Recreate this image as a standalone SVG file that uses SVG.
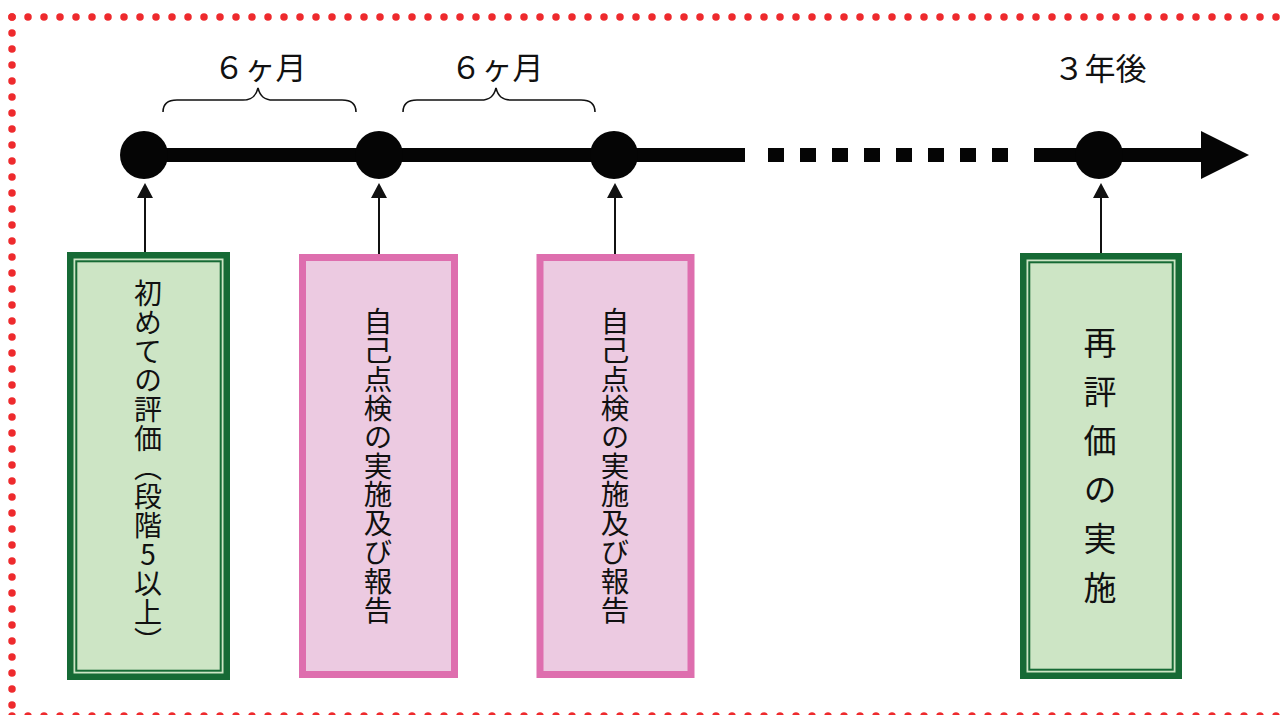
<svg xmlns="http://www.w3.org/2000/svg" width="1283" height="715" viewBox="0 0 1283 715">
  <style>
    .dots { stroke: #ee2a2d; stroke-width: 7.5; stroke-linecap: round; stroke-dasharray: 0 16; fill: none; }
    .axis { stroke: #050505; stroke-width: 14; fill: none; }
    .dot { fill: #050505; }
    .brace { stroke: #111; stroke-width: 1.6; fill: none; }
    .lbl { font-family: "Noto Sans CJK JP", sans-serif; font-size: 31px; font-weight: 400; fill: #111; text-anchor: middle; }
    .conn { stroke: #111; stroke-width: 2; fill: none; }
    .gOuter { fill: #cde5c5; stroke: #166a35; stroke-width: 6.5; }
    .gInner { fill: none; stroke: #166a35; stroke-width: 2; }
    .pBox { fill: #eccae1; stroke: #de6eae; stroke-width: 7; }
    .vt { font-family: "Noto Sans CJK JP", sans-serif; font-weight: 400; fill: #111; writing-mode: vertical-rl; text-orientation: upright; }
  </style>
  <defs>
    <marker id="ah" markerWidth="16" markerHeight="16" refX="8" refY="8" orient="auto" markerUnits="userSpaceOnUse">
      <path d="M0,0 L15,8 L0,16 z" fill="#111"/>
    </marker>
  </defs>

  <g id="frame">
    <line class="dots" x1="12" y1="17" x2="1300" y2="17"/>
    <line class="dots" x1="12" y1="17" x2="12" y2="715"/>
    <line class="dots" x1="12" y1="716" x2="1300" y2="716"/>
  </g>

  <g id="timeline">
    <line class="axis" x1="144" y1="155" x2="745" y2="155"/>
    <line class="axis" x1="768" y1="155" x2="1008" y2="155" stroke-dasharray="16 16"/>
    <line class="axis" x1="1034" y1="155" x2="1205" y2="155"/>
    <polygon points="1201,131 1249,155 1201,179" fill="#050505"/>
    <circle class="dot" cx="144" cy="155" r="24"/>
    <circle class="dot" cx="379" cy="155" r="24"/>
    <circle class="dot" cx="614" cy="155" r="24"/>
    <circle class="dot" cx="1099" cy="155" r="24"/>
  </g>

  <g id="spans">
    <path class="brace" d="M163,112 C163,104 167,100 177,100 L243,100 C252,100 256,96 258,88 C260,96 264,100 273,100 L342,100 C351,100 356,104 356,112"/>
    <text class="lbl" x="260" y="79">６ヶ月</text>
    <path class="brace" d="M403,112 C403,104 407,100 417,100 L481,100 C490,100 494,96 496,88 C498,96 502,100 511,100 L581,100 C590,100 595,104 595,112"/>
    <text class="lbl" x="497" y="79">６ヶ月</text>
    <text class="lbl" x="1100" y="80">３年後</text>
  </g>

  <g id="connectors">
    <line class="conn" x1="145" y1="253" x2="145" y2="190" marker-end="url(#ah)"/>
    <line class="conn" x1="379" y1="254" x2="379" y2="190" marker-end="url(#ah)"/>
    <line class="conn" x1="615" y1="254" x2="615" y2="190" marker-end="url(#ah)"/>
    <line class="conn" x1="1101" y1="253" x2="1101" y2="190" marker-end="url(#ah)"/>
  </g>

  <g id="node-first">
    <rect class="gOuter" x="70.25" y="255.25" width="156.5" height="421.5"/>
    <rect class="gInner" x="76.3" y="261.3" width="144.4" height="409.4"/>
    <text class="vt" x="148" y="279" font-size="28" letter-spacing="1">初めての評価（段階5以上）</text>
  </g>

  <g id="node-self1">
    <rect class="pBox" x="302.5" y="257.5" width="152" height="417"/>
    <text class="vt" x="378" y="307" font-size="28.5" letter-spacing="0.4">自己点検の実施及び報告</text>
  </g>

  <g id="node-self2">
    <rect class="pBox" x="540" y="257.5" width="151" height="417"/>
    <text class="vt" x="615" y="307" font-size="28.5" letter-spacing="0.4">自己点検の実施及び報告</text>
  </g>

  <g id="node-re">
    <rect class="gOuter" x="1023.25" y="256.25" width="155.5" height="419.5"/>
    <rect class="gInner" x="1029.3" y="262.3" width="143.4" height="407.4"/>
    <text class="vt" x="1100" y="326" font-size="33" letter-spacing="16">再評価の実施</text>
  </g>
</svg>
